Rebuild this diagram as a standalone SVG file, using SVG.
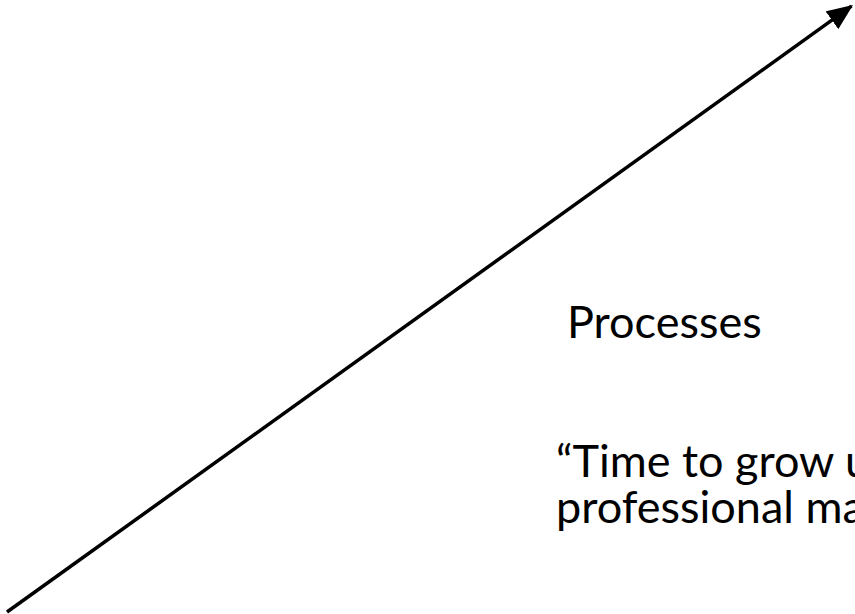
<svg xmlns="http://www.w3.org/2000/svg" width="855" height="614" viewBox="0 0 855 614">
<defs>
<marker id="ah" markerWidth="26" markerHeight="22" refX="24" refY="11" orient="auto" markerUnits="userSpaceOnUse">
<path d="M0,0 L26,11 L0,22 Z" fill="#000"/>
</marker>
<style>
.t{font-family:Lato,"Open Sans","Liberation Sans",sans-serif;fill:#000;font-size:45px}
</style>
</defs>
<rect width="855" height="614" fill="#fff"/>
<g id="connectors">
<line x1="7" y1="612" x2="851.4" y2="6.2" stroke="#000" stroke-width="3.5" marker-end="url(#ah)"/>
</g>
<g id="processes">
<text class="t" x="567" y="338">Processes</text>
</g>
<g id="quote">
<text class="t" x="556" y="477">“Time to grow u</text>
<text class="t" x="556" y="523">professional ma</text>
</g>
</svg>
